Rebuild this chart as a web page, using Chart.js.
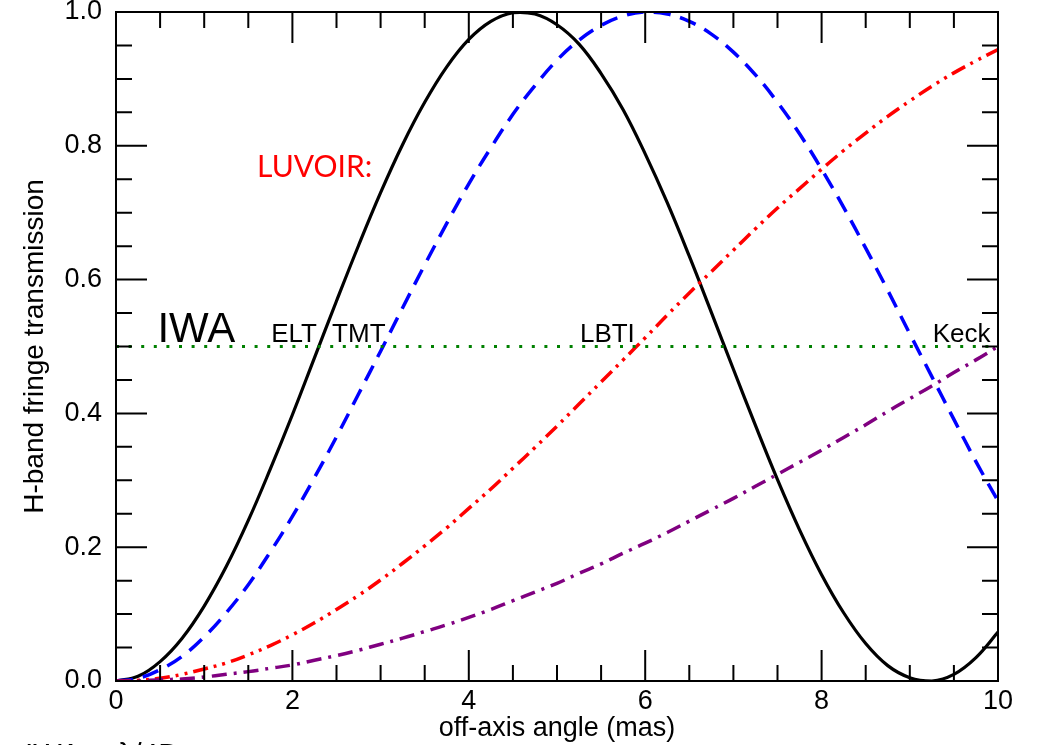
<!DOCTYPE html>
<html>
<head>
<meta charset="utf-8">
<title>H-band fringe transmission</title>
<script src="https://cdn.jsdelivr.net/npm/chart.js@4.4.1/dist/chart.umd.min.js"></script>
<style>
    body { margin: 0; background: #fff; }
    #wrap { width: 1038px; height: 745px; }
</style>
</head>
<body>
<div id="wrap"><canvas id="fringeChart" width="1038" height="745"></canvas></div>
<script>
// off-axis angle (mas), every 0.25 mas
const angle = [0, 0.25, 0.5, 0.75, 1, 1.25, 1.5, 1.75, 2, 2.25, 2.5, 2.75, 3, 3.25, 3.5, 3.75, 4, 4.25, 4.5, 4.75,
               5, 5.25, 5.5, 5.75, 6, 6.25, 6.5, 6.75, 7, 7.25, 7.5, 7.75, 8, 8.25, 8.5, 8.75, 9, 9.25, 9.5, 9.75, 10];

// fringe transmission per telescope baseline
const eltValues  = [0, 0.007, 0.029, 0.064, 0.112, 0.171, 0.240, 0.317, 0.398, 0.483, 0.568, 0.651, 0.730, 0.802, 0.865, 0.918, 0.959, 0.986, 0.999, 0.997,
                    0.981, 0.952, 0.908, 0.854, 0.788, 0.715, 0.635, 0.551, 0.466, 0.382, 0.301, 0.226, 0.159, 0.102, 0.056, 0.023, 0.005, 0.000, 0.010, 0.035, 0.073];
const tmtValues  = [0, 0.004, 0.017, 0.037, 0.066, 0.102, 0.144, 0.193, 0.246, 0.304, 0.365, 0.429, 0.493, 0.558, 0.622, 0.684, 0.743, 0.797, 0.847, 0.890,
                    0.928, 0.958, 0.980, 0.994, 1.000, 0.997, 0.986, 0.967, 0.940, 0.906, 0.865, 0.818, 0.765, 0.708, 0.647, 0.584, 0.519, 0.455, 0.391, 0.328, 0.269];
const lbtiValues = [0, 0.001, 0.004, 0.010, 0.018, 0.027, 0.039, 0.053, 0.069, 0.087, 0.107, 0.128, 0.151, 0.176, 0.202, 0.229, 0.258, 0.287, 0.318, 0.349,
                    0.381, 0.414, 0.447, 0.480, 0.513, 0.547, 0.580, 0.612, 0.644, 0.676, 0.707, 0.736, 0.765, 0.793, 0.819, 0.844, 0.867, 0.889, 0.909, 0.927, 0.944];
const keckValues = [0, 0.000, 0.002, 0.003, 0.006, 0.010, 0.014, 0.019, 0.024, 0.031, 0.038, 0.046, 0.055, 0.064, 0.074, 0.084, 0.095, 0.107, 0.120, 0.133,
                    0.146, 0.161, 0.175, 0.191, 0.206, 0.222, 0.239, 0.256, 0.273, 0.291, 0.309, 0.327, 0.345, 0.364, 0.383, 0.403, 0.422, 0.441, 0.461, 0.480, 0.500];

// IWA threshold line
const iwaAngle = [0, 10];
const iwaLevel = [0.5, 0.5];

// axis ticks
const xTicks = [0, 2, 4, 6, 8, 10];
const yTicks = [0, 0.2, 0.4, 0.6, 0.8, 1.0];
const xMinorStep = 0.5;
const yMinorStep = 0.05;

const FONT = "'Liberation Sans', Arial, Helvetica, sans-serif";

function toPoints(xs, ys) {
    return xs.map((v, i) => ({ x: v, y: ys[i] }));
}

// inward ticks on all four sides + black frame, like the original plot
const frameTicks = {
    id: 'frameTicks',
    afterDatasetsDraw(chart) {
        const { ctx, chartArea: a, scales: { x, y } } = chart;
        ctx.save();
        ctx.strokeStyle = '#000';
        ctx.lineWidth = 2;
        ctx.beginPath();
        const nx = Math.round((x.max - x.min) / xMinorStep);
        for (let i = 0; i <= nx; i++) {
            const v = x.min + i * xMinorStep;
            const len = xTicks.includes(v) ? 31 : 16;
            const px = x.getPixelForValue(v);
            ctx.moveTo(px, a.bottom); ctx.lineTo(px, a.bottom - len);
            ctx.moveTo(px, a.top); ctx.lineTo(px, a.top + len);
        }
        const ny = Math.round((y.max - y.min) / yMinorStep);
        for (let i = 0; i <= ny; i++) {
            const v = y.min + i * yMinorStep;
            const len = i % 4 === 0 ? 31 : 16;
            const py = y.getPixelForValue(v);
            ctx.moveTo(a.left, py); ctx.lineTo(a.left + len, py);
            ctx.moveTo(a.right, py); ctx.lineTo(a.right - len, py);
        }
        ctx.stroke();
        ctx.strokeRect(a.left, a.top, a.right - a.left, a.bottom - a.top);
        ctx.restore();
    }
};

// text labels placed in data units
const notes = [
    { text: 'IWA',     x: 0.47, y: 0.507, font: '42px ' + FONT, color: '#000' },
    { text: 'ELT',     x: 1.76, y: 0.507, font: '26px ' + FONT, color: '#000' },
    { text: 'TMT',     x: 2.45, y: 0.507, font: '26px ' + FONT, color: '#000' },
    { text: 'LBTI',    x: 5.26, y: 0.507, font: '26px ' + FONT, color: '#000' },
    { text: 'Keck',    x: 9.26, y: 0.507, font: '26px ' + FONT, color: '#000' },
    { text: 'LUVOIR:', x: 1.60, y: 0.753, font: "30px Lato, 'Open Sans', sans-serif", color: '#ff0000' }
];

const annotate = {
    id: 'annotate',
    afterDraw(chart) {
        const { ctx, scales: { x, y } } = chart;
        ctx.save();
        ctx.textBaseline = 'alphabetic';
        ctx.textAlign = 'left';
        notes.forEach(n => {
            ctx.font = n.font;
            ctx.fillStyle = n.color;
            ctx.fillText(n.text, x.getPixelForValue(n.x), y.getPixelForValue(n.y));
        });
        // caption cut off at the bottom of the slide
        ctx.font = '30px ' + FONT;
        ctx.fillStyle = '#000';
        ctx.fillText('IWA \u221D \u03BB/4D \u2794', 25, 764);
        ctx.restore();
    }
};

const lineDefaults = { pointRadius: 0, fill: false, tension: 0.4, borderCapStyle: 'butt' };

new Chart(document.getElementById('fringeChart'), {
    type: 'line',
    data: {
        datasets: [
            { ...lineDefaults, label: 'IWA', data: toPoints(iwaAngle, iwaLevel), tension: 0, borderColor: '#008000', borderWidth: 3, borderDash: [3, 9.6] },
            { ...lineDefaults, label: 'Keck', data: toPoints(angle, keckValues), borderColor: '#800080', borderWidth: 3.5, borderDash: [15, 7, 3, 7] },
            { ...lineDefaults, label: 'LBTI', data: toPoints(angle, lbtiValues), borderColor: '#ff0000', borderWidth: 3.5, borderDash: [15, 6, 3, 6, 3, 6] },
            { ...lineDefaults, label: 'TMT', data: toPoints(angle, tmtValues), borderColor: '#0000ff', borderWidth: 3.5, borderDash: [17, 10] },
            { ...lineDefaults, label: 'ELT', data: toPoints(angle, eltValues), borderColor: '#000000', borderWidth: 3.2 }
        ]
    },
    options: {
        responsive: false,
        animation: false,
        layout: { padding: { top: 12, right: 40, left: 0, bottom: 0 } },
        plugins: { legend: { display: false }, tooltip: { enabled: false } },
        scales: {
            x: {
                type: 'linear',
                min: 0, max: 10,
                grid: { display: false, drawTicks: false },
                border: { display: false },
                afterBuildTicks: s => { s.ticks = xTicks.map(v => ({ value: v })); },
                ticks: { color: '#000', font: { family: FONT, size: 27 }, padding: 4, maxRotation: 0 },
                title: { display: true, text: 'off-axis angle (mas)', color: '#000', font: { family: FONT, size: 27 }, padding: 0 },
                afterFit: s => { s.height = 64; s.paddingLeft = 0; s.paddingRight = 0; }
            },
            y: {
                min: 0, max: 1,
                grid: { display: false, drawTicks: false },
                border: { display: false },
                afterBuildTicks: s => { s.ticks = yTicks.map(v => ({ value: v })); },
                ticks: { color: '#000', font: { family: FONT, size: 27 }, padding: 14, callback: v => v.toFixed(1) },
                title: { display: true, text: 'H-band fringe transmission', color: '#000', font: { family: FONT, size: 28 }, padding: { top: 18, bottom: 0 } },
                afterFit: s => { s.width = 116; s.paddingTop = 0; s.paddingBottom = 0; }
            }
        }
    },
    plugins: [frameTicks, annotate]
});
</script>
</body>
</html>
